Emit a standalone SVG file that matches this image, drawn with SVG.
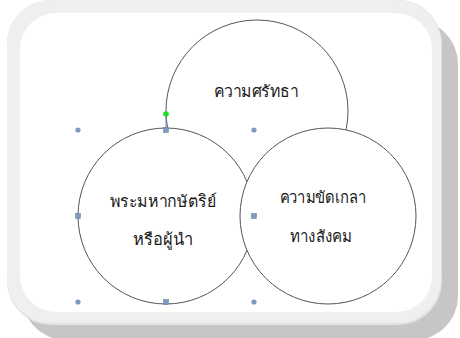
<svg xmlns="http://www.w3.org/2000/svg" width="460" height="338" viewBox="0 0 460 338">
<style>
.circ{fill:#ffffff;stroke:#555555;stroke-width:1}
.lbl{font-family:"Noto Sans","DejaVu Sans","Liberation Sans",sans-serif;font-size:16.5px;fill:#1a1a1a;text-anchor:middle}
.hs{fill:#7f9ac0;stroke:#6a86ad;stroke-width:0.6}
.hc{fill:#7f9ac0}
</style>
<g id="frame">
<rect x="22" y="20" width="436" height="320" rx="44" fill="#c6c6c6"/>
<rect x="7" y="0" width="435" height="325" rx="44" fill="#e3e3e3"/>
<rect x="7" y="0" width="434" height="323" rx="44" fill="#efefef"/>
<rect x="20" y="13" width="412" height="299" rx="36" fill="#ffffff"/>
</g>
<g id="node-faith">
<circle class="circ" cx="257" cy="111" r="91"/>
<text class="lbl" x="256" y="97" textLength="85" lengthAdjust="spacingAndGlyphs">ความศรัทธา</text>
</g>
<g id="node-king">
<circle class="circ" cx="166" cy="216" r="88"/>
<text class="lbl" x="163" y="207" textLength="107" lengthAdjust="spacingAndGlyphs">พระมหากษัตริย์</text>
<text class="lbl" x="163" y="245" textLength="60" lengthAdjust="spacingAndGlyphs">หรือผู้นำ</text>
</g>
<g id="node-social">
<circle class="circ" cx="328" cy="216" r="88"/>
<text class="lbl" x="323" y="203" textLength="87" lengthAdjust="spacingAndGlyphs">ความขัดเกลา</text>
<text class="lbl" x="321" y="242" textLength="62" lengthAdjust="spacingAndGlyphs">ทางสังคม</text>
</g>
<g id="connectors">
<line x1="166" y1="114" x2="166" y2="130" stroke="#6a86ad" stroke-width="1"/>
</g>
<g id="selection-handles">
<circle class="hc" cx="78" cy="130" r="2.6"/>
<circle class="hc" cx="254" cy="130" r="2.6"/>
<circle class="hc" cx="78" cy="302" r="2.6"/>
<circle class="hc" cx="254" cy="302" r="2.6"/>
<rect class="hs" x="163.5" y="127.5" width="5" height="5"/>
<rect class="hs" x="75.5" y="213.5" width="5" height="5"/>
<rect class="hs" x="251.5" y="213.5" width="5" height="5"/>
<rect class="hs" x="163.5" y="299.5" width="5" height="5"/>
<circle cx="166" cy="114" r="2.8" fill="#22dd22"/>
</g>
</svg>
